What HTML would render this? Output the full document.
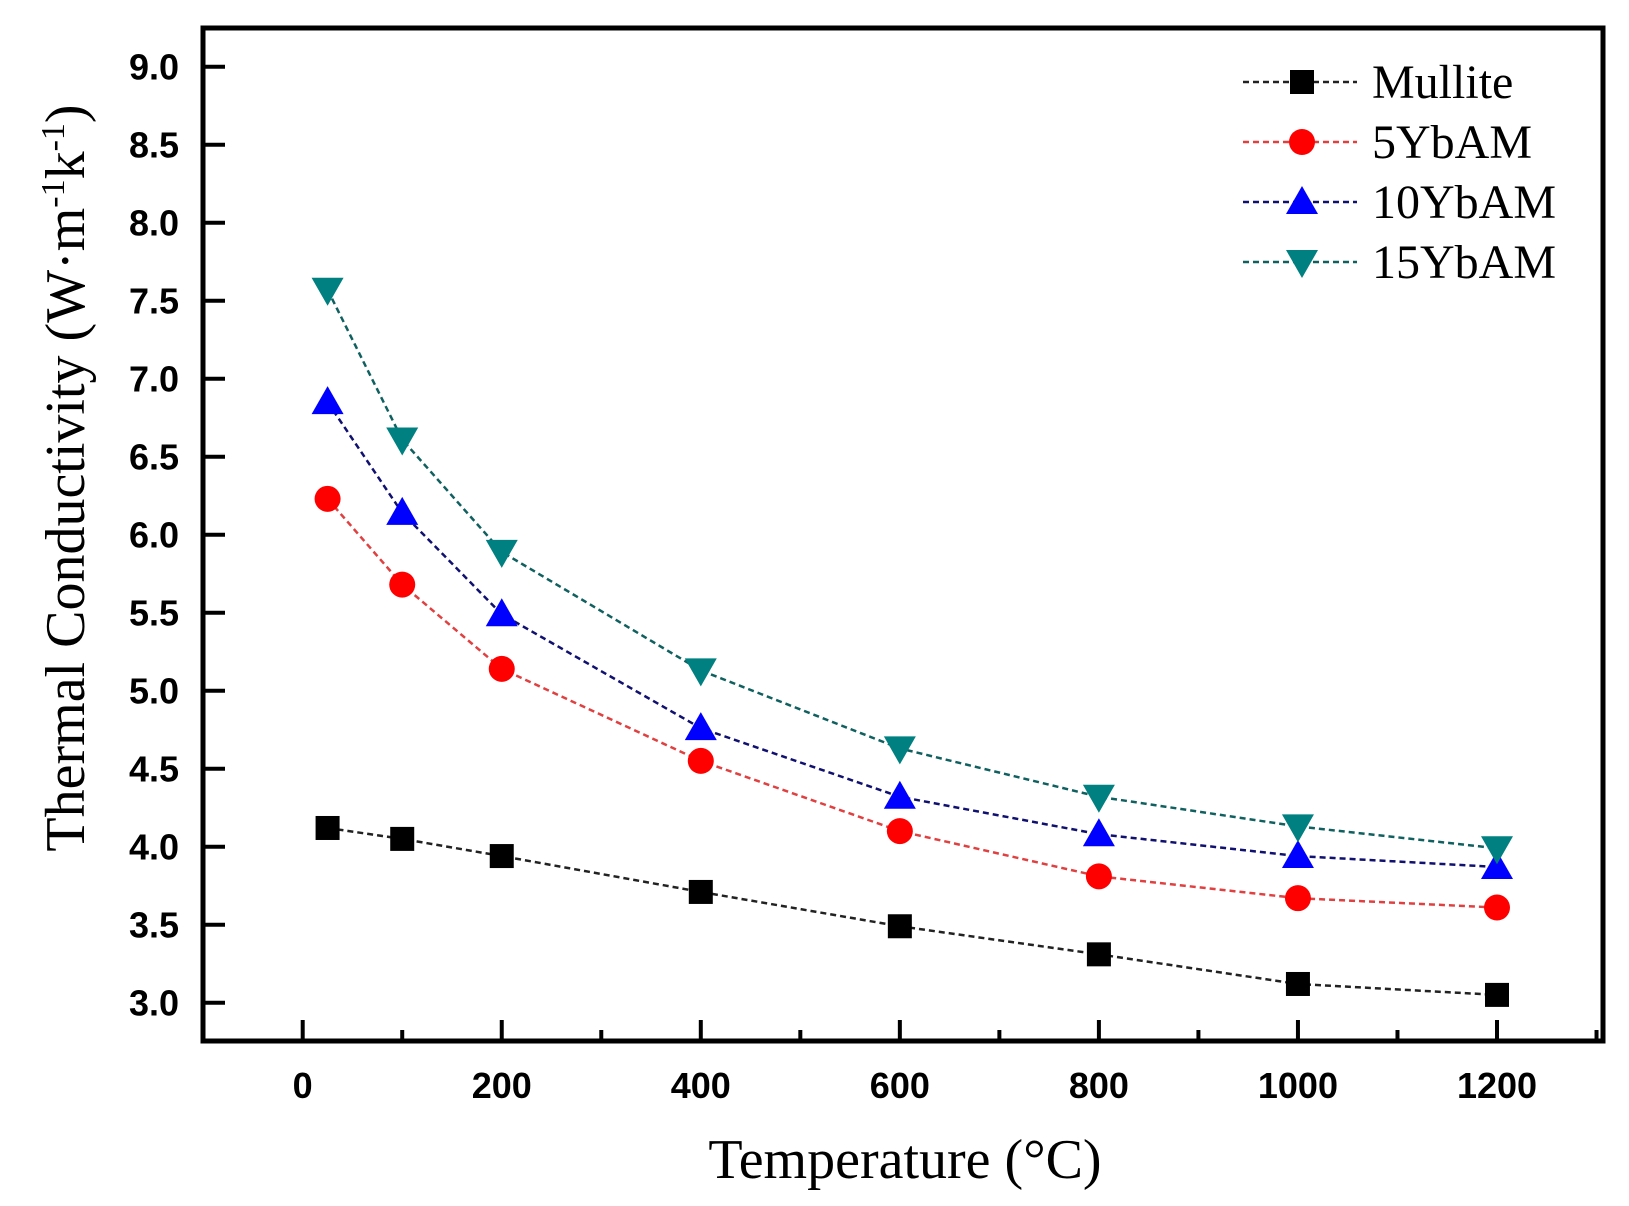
<!DOCTYPE html>
<html><head><meta charset="utf-8"><style>
html,body{margin:0;padding:0;background:#fff;}
svg{display:block;}
</style></head><body>
<svg id="chart" width="1629" height="1206" xmlns="http://www.w3.org/2000/svg">
<rect x="0" y="0" width="1629" height="1206" fill="#fff"/>
<g id="plot"></g>
<rect x="203" y="28" width="1400" height="1013" fill="none" stroke="#000" stroke-width="5"/>
<g id="axes"></g>
<text x="905" y="1178" text-anchor="middle" font-family="Liberation Serif, serif" font-size="56">Temperature (°C)</text>
<text transform="translate(84,478) rotate(-90)" text-anchor="middle" font-family="Liberation Serif, serif" font-size="56">Thermal Conductivity (W·m<tspan dy="-20" font-size="34">-1</tspan><tspan dy="20">k</tspan><tspan dy="-20" font-size="34">-1</tspan><tspan dy="20">)</tspan></text>
<g id="legend"></g>
</svg>
<script>
const temps = [25, 100, 200, 400, 600, 800, 1000, 1200];
const mullite = [4.12, 4.05, 3.94, 3.71, 3.49, 3.31, 3.12, 3.05];
const yb5 = [6.23, 5.68, 5.14, 4.55, 4.10, 3.81, 3.67, 3.61];
const yb10 = [6.85, 6.14, 5.49, 4.76, 4.32, 4.08, 3.94, 3.87];
const yb15 = [7.57, 6.61, 5.89, 5.13, 4.63, 4.32, 4.13, 3.99];
const xTicks = [0, 200, 400, 600, 800, 1000, 1200];
const yTicks = ["3.0","3.5","4.0","4.5","5.0","5.5","6.0","6.5","7.0","7.5","8.0","8.5","9.0"];
const seriesNames = ["Mullite", "5YbAM", "10YbAM", "15YbAM"];

const NS = "http://www.w3.org/2000/svg";
const X = v => 302.7 + (v - 0) * (1497 - 302.7) / 1200;
const Y = v => 1002.7 - (v - 3) * (1002.7 - 66.7) / 6;
function mk(tag, attrs, parent){const e=document.createElementNS(NS,tag);for(const k in attrs)e.setAttribute(k,attrs[k]);parent.appendChild(e);return e;}
const axes=document.getElementById('axes'), plot=document.getElementById('plot'), legend=document.getElementById('legend');
for(let v=-100; v<=1300; v+=100){
  const major = xTicks.includes(v);
  const t=mk('line',{x1:X(v),x2:X(v),y1:1041,y2:major?1020:1030,stroke:'#000','stroke-width':4},axes);
  
  
}
xTicks.forEach(v=>{
  const t=mk('text',{x:X(v),y:1098,'text-anchor':'middle','font-family':'Liberation Sans, sans-serif','font-weight':'bold','font-size':36},axes);
  t.textContent=v;
  
  
});
yTicks.forEach(s=>{
  const v=parseFloat(s);
  const l=mk('line',{x1:203,x2:225,y1:Y(v),y2:Y(v),stroke:'#000','stroke-width':4},axes);
  
  
  const t=mk('text',{x:179,y:Y(v)+13,'text-anchor':'end','font-family':'Liberation Sans, sans-serif','font-weight':'bold','font-size':36},axes);
  t.textContent=s;
  
  
});
const styles=[
  {fill:'#000',line:'#222',shape:'square'},
  {fill:'#ff0000',line:'#e04040',shape:'circle'},
  {fill:'#0000ff',line:'#101070',shape:'up'},
  {fill:'#008080',line:'#106060',shape:'down'}
];
function marker(shape,cx,cy,fill,parent){
  let e;
  if(shape==='square') e=mk('rect',{x:cx-12,y:cy-12,width:24,height:24,fill:fill},parent);
  else if(shape==='circle') e=mk('circle',{cx:cx,cy:cy,r:13,fill:fill},parent);
  else if(shape==='up') e=mk('polygon',{points:`${cx},${cy-16} ${cx-16},${cy+12} ${cx+16},${cy+12}`,fill:fill},parent);
  else e=mk('polygon',{points:`${cx},${cy+16} ${cx-16},${cy-12} ${cx+16},${cy-12}`,fill:fill},parent);
  return e;
}
[mullite,yb5,yb10,yb15].forEach((d,i)=>{
  const st=styles[i];
  const p=mk('polyline',{points:d.map((v,j)=>X(temps[j])+','+Y(v)).join(' '),fill:'none',stroke:st.line,'stroke-width':2.5,'stroke-dasharray':'6,4'},plot);
  
  
  d.forEach((v,j)=>{
    const m=marker(st.shape,X(temps[j]),Y(v),st.fill,plot);
    
    
  });
  const ly=82+60*i;
  const ll=mk('line',{x1:1243,x2:1357,y1:ly,y2:ly,stroke:st.line,'stroke-width':2.5,'stroke-dasharray':'6,4'},legend);
  
  
  const lm=marker(st.shape,1302,ly,st.fill,legend);
  
  
  const lt=mk('text',{x:1372,y:ly+16,'font-family':'Liberation Serif, serif','font-size':48},legend);
  lt.textContent=seriesNames[i];
  
  
});
</script>
</body></html>
